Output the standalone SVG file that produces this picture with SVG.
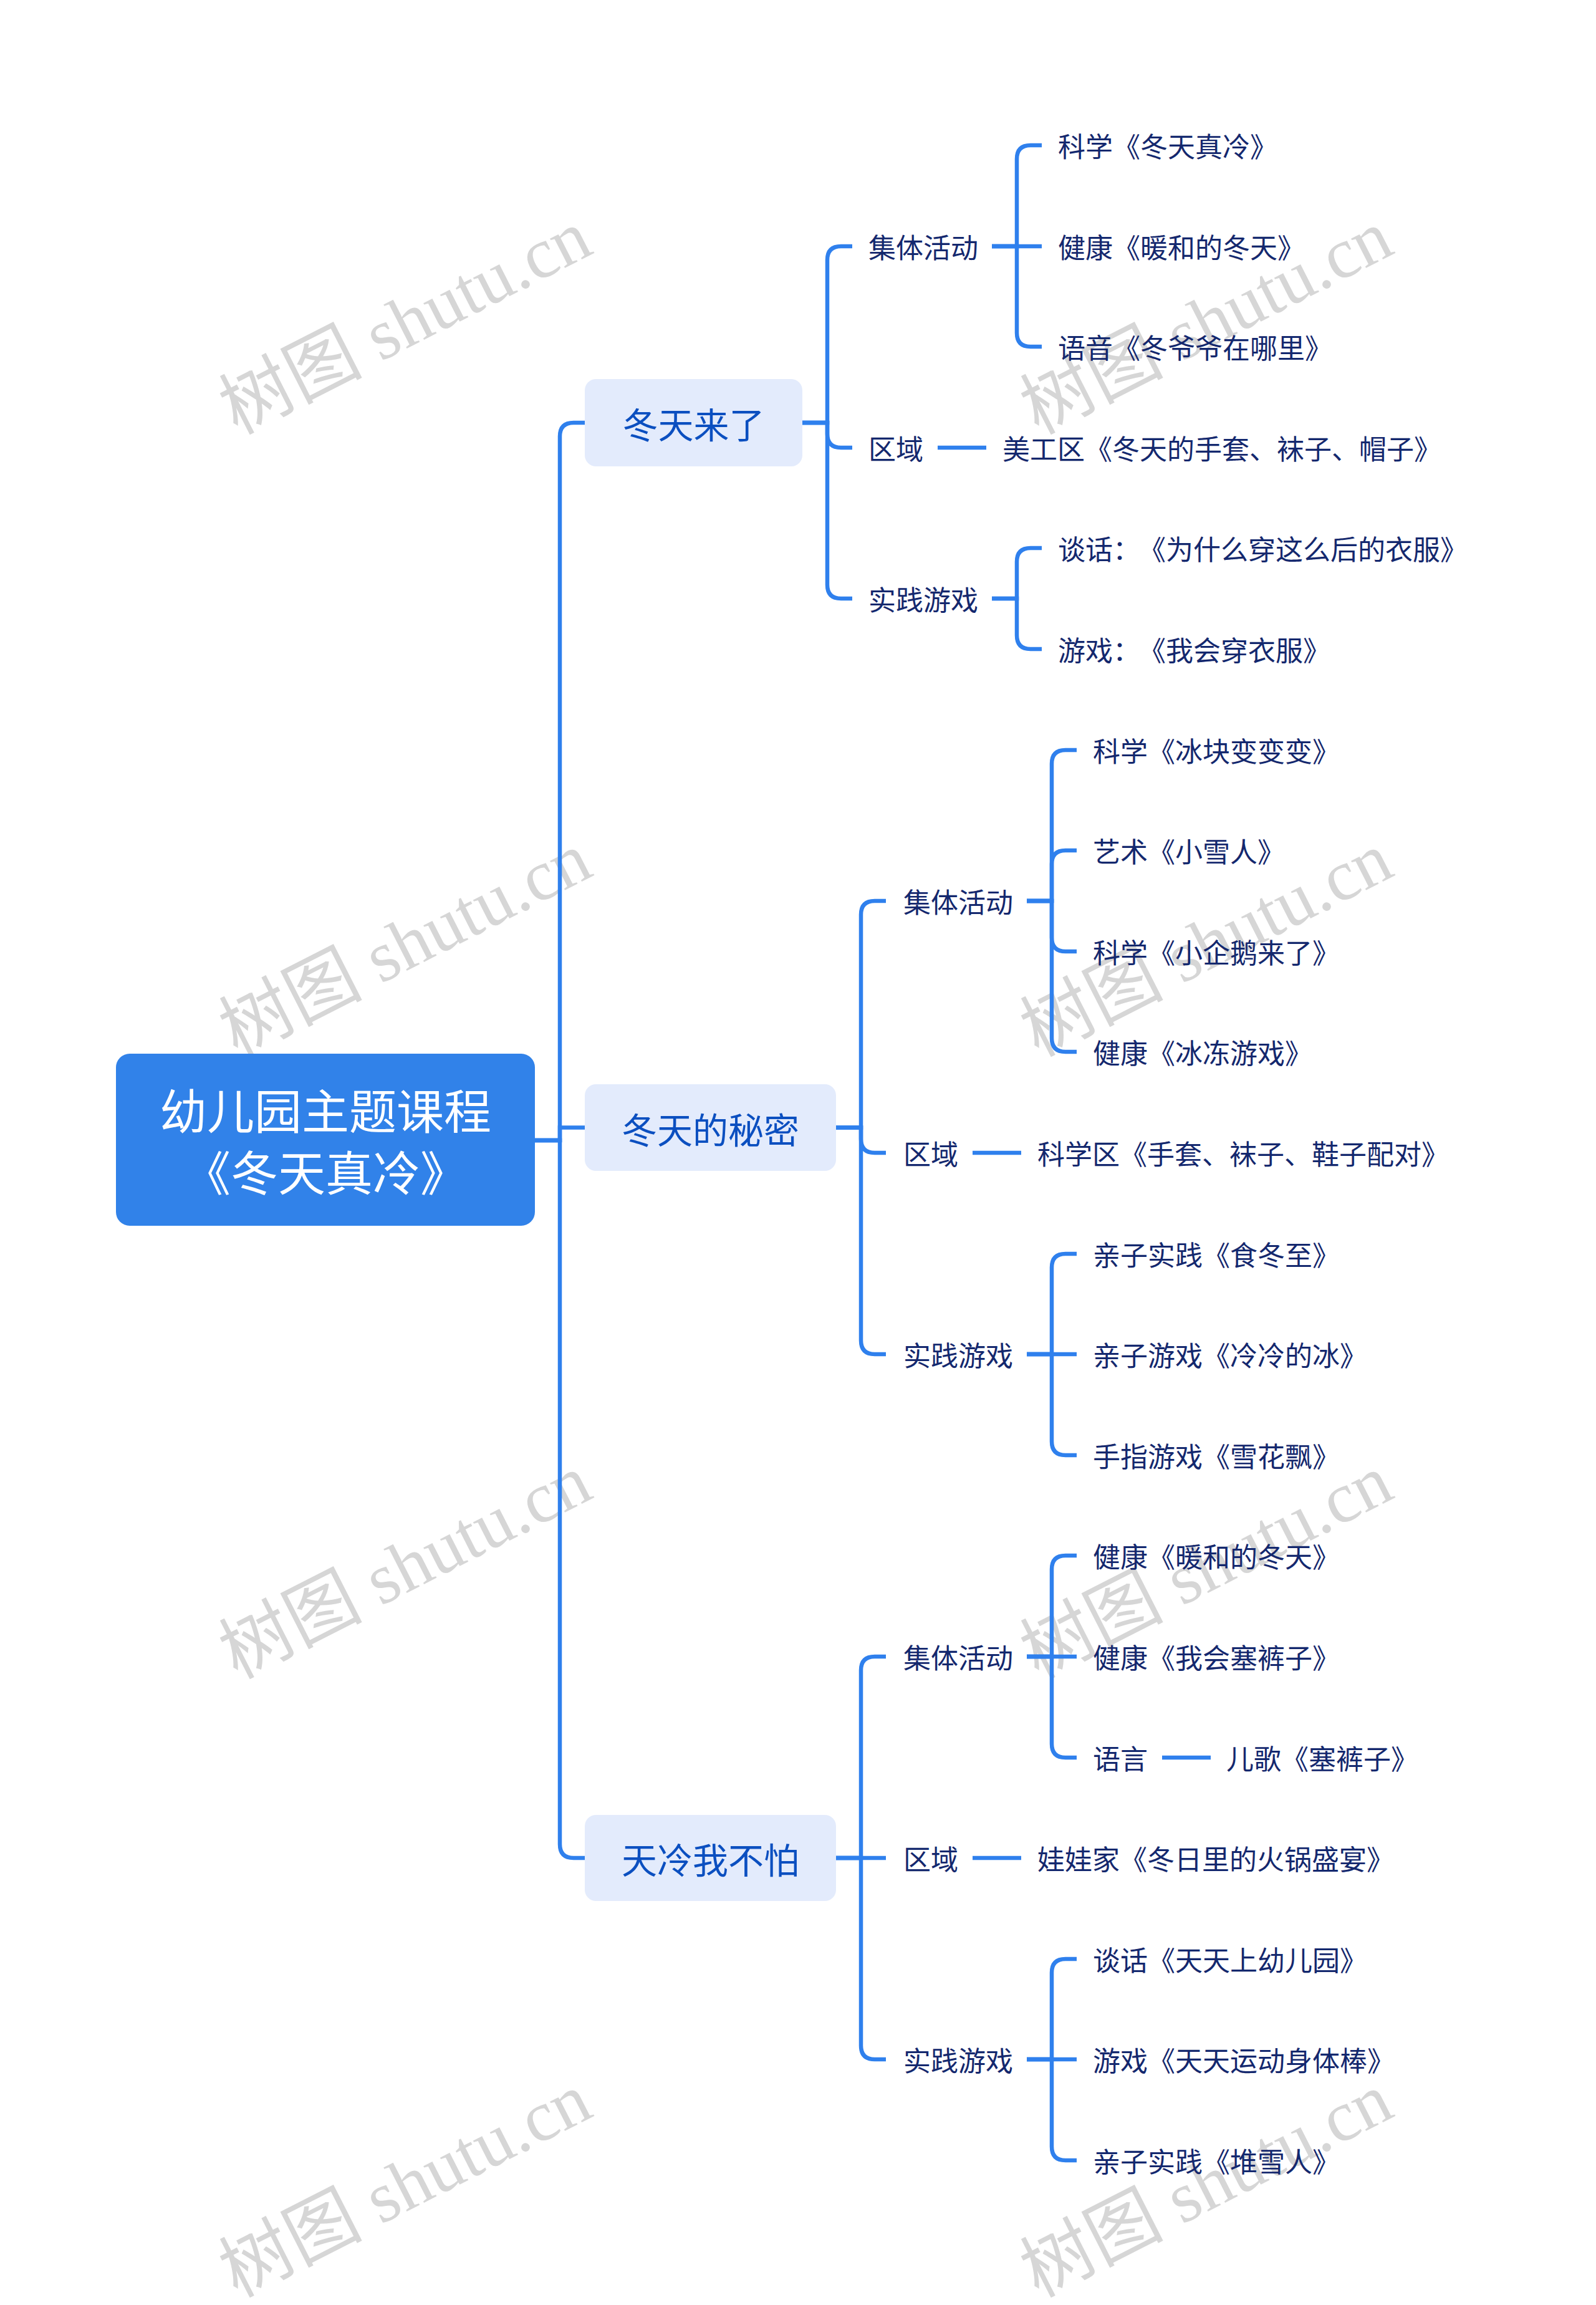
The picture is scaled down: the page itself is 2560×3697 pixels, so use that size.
<svg xmlns="http://www.w3.org/2000/svg" width="2560" height="3697" viewBox="0 0 2560 3697">
<style>
text{font-family:"Noto Sans CJK SC","Noto Sans",sans-serif;dominant-baseline:central}
.wm{font-family:"Liberation Serif","Noto Sans CJK SC",serif;font-size:115px;fill:#d6d6d6;text-anchor:middle}
.root{fill:#3182e9}
.rt{fill:#ffffff;font-size:76px;text-anchor:middle}
.l1{fill:#e3ebfc}
.l1t{fill:#0b4fc0;font-size:57px;text-anchor:middle}
.t{fill:#14286e;font-size:44px}
.c{fill:none;stroke:#2f80ed;stroke-width:6.5;stroke-linecap:butt}
</style>
<rect width="2560" height="3697" fill="#ffffff"/>
<g id="watermarks">
<text class="wm" transform="translate(650,517) rotate(-27)">树图 shutu.cn</text>
<text class="wm" transform="translate(1935,517) rotate(-27)">树图 shutu.cn</text>
<text class="wm" transform="translate(650,1515) rotate(-27)">树图 shutu.cn</text>
<text class="wm" transform="translate(1935,1515) rotate(-27)">树图 shutu.cn</text>
<text class="wm" transform="translate(650,2513) rotate(-27)">树图 shutu.cn</text>
<text class="wm" transform="translate(1935,2513) rotate(-27)">树图 shutu.cn</text>
<text class="wm" transform="translate(650,3505) rotate(-27)">树图 shutu.cn</text>
<text class="wm" transform="translate(1935,3505) rotate(-27)">树图 shutu.cn</text>
</g>
<g id="connectors">
<path class="c" d="M858 1829 H898 V700 Q898 678 920 678 H938"/>
<path class="c" d="M858 1829 H898 V1808.5 H938"/>
<path class="c" d="M858 1829 H898 V2958 Q898 2980 920 2980 H938"/>
<path class="c" d="M1287 678 H1327 V417 Q1327 395 1349 395 H1367"/>
<path class="c" d="M1287 678 H1327 V696 Q1327 718 1349 718 H1367"/>
<path class="c" d="M1287 678 H1327 V938 Q1327 960 1349 960 H1367"/>
<path class="c" d="M1591 395 H1631 V255 Q1631 233 1653 233 H1671"/>
<path class="c" d="M1591 395 H1671"/>
<path class="c" d="M1591 395 H1631 V534 Q1631 556 1653 556 H1671"/>
<path class="c" d="M1504 718 H1582"/>
<path class="c" d="M1591 960 H1631 V901 Q1631 879 1653 879 H1671"/>
<path class="c" d="M1591 960 H1631 V1019 Q1631 1041 1653 1041 H1671"/>
<path class="c" d="M1341 1808.5 H1381 V1467 Q1381 1445 1403 1445 H1421"/>
<path class="c" d="M1341 1808.5 H1381 V1827 Q1381 1849 1403 1849 H1421"/>
<path class="c" d="M1341 1808.5 H1381 V2150 Q1381 2172 1403 2172 H1421"/>
<path class="c" d="M1647 1445 H1687 V1225 Q1687 1203 1709 1203 H1727"/>
<path class="c" d="M1647 1445 H1687 V1386 Q1687 1364 1709 1364 H1727"/>
<path class="c" d="M1647 1445 H1687 V1504 Q1687 1526 1709 1526 H1727"/>
<path class="c" d="M1647 1445 H1687 V1665 Q1687 1687 1709 1687 H1727"/>
<path class="c" d="M1560 1849 H1638"/>
<path class="c" d="M1647 2172 H1687 V2033 Q1687 2011 1709 2011 H1727"/>
<path class="c" d="M1647 2172 H1727"/>
<path class="c" d="M1647 2172 H1687 V2312 Q1687 2334 1709 2334 H1727"/>
<path class="c" d="M1341 2980 H1381 V2679 Q1381 2657 1403 2657 H1421"/>
<path class="c" d="M1341 2980 H1421"/>
<path class="c" d="M1341 2980 H1381 V3281 Q1381 3303 1403 3303 H1421"/>
<path class="c" d="M1647 2657 H1687 V2517 Q1687 2495 1709 2495 H1727"/>
<path class="c" d="M1647 2657 H1727"/>
<path class="c" d="M1647 2657 H1687 V2797 Q1687 2819 1709 2819 H1727"/>
<path class="c" d="M1864 2819 H1942"/>
<path class="c" d="M1560 2980 H1638"/>
<path class="c" d="M1647 3303 H1687 V3164 Q1687 3142 1709 3142 H1727"/>
<path class="c" d="M1647 3303 H1727"/>
<path class="c" d="M1647 3303 H1687 V3443 Q1687 3465 1709 3465 H1727"/>
</g>
<g id="root">
<rect class="root" x="186" y="1690" width="672" height="276" rx="22"/>
<text class="rt" x="522" y="1778">幼儿园主题课程</text>
<text class="rt" x="522" y="1877">《冬天真冷》</text>
</g>
<g id="n1"><rect class="l1" x="938" y="608" width="349" height="140" rx="18"/><text class="l1t" x="1112.5" y="678">冬天来了</text></g>
<g id="n2"><rect class="l1" x="938" y="1739" width="403" height="139" rx="18"/><text class="l1t" x="1139.5" y="1808.5">冬天的秘密</text></g>
<g id="n3"><rect class="l1" x="938" y="2911" width="403" height="138" rx="18"/><text class="l1t" x="1139.5" y="2980">天冷我不怕</text></g>
<g id="n1a"><text class="t" x="1393" y="395">集体活动</text></g>
<g id="n1a1"><text class="t" x="1697" y="233">科学《冬天真冷》</text></g>
<g id="n1a2"><text class="t" x="1697" y="395">健康《暖和的冬天》</text></g>
<g id="n1a3"><text class="t" x="1697" y="556">语音《冬爷爷在哪里》</text></g>
<g id="n1b"><text class="t" x="1393" y="718">区域</text></g>
<g id="n1b1"><text class="t" x="1608" y="718">美工区《冬天的手套、袜子、帽子》</text></g>
<g id="n1c"><text class="t" x="1393" y="960">实践游戏</text></g>
<g id="n1c1"><text class="t" x="1697" y="879">谈话：<tspan dx="19">《为什么穿这么后的衣服》</tspan></text></g>
<g id="n1c2"><text class="t" x="1697" y="1041">游戏：<tspan dx="19">《我会穿衣服》</tspan></text></g>
<g id="n2a"><text class="t" x="1449" y="1445">集体活动</text></g>
<g id="n2a1"><text class="t" x="1753" y="1203">科学《冰块变变变》</text></g>
<g id="n2a2"><text class="t" x="1753" y="1364">艺术《小雪人》</text></g>
<g id="n2a3"><text class="t" x="1753" y="1526">科学《小企鹅来了》</text></g>
<g id="n2a4"><text class="t" x="1753" y="1687">健康《冰冻游戏》</text></g>
<g id="n2b"><text class="t" x="1449" y="1849">区域</text></g>
<g id="n2b1"><text class="t" x="1664" y="1849">科学区《手套、袜子、鞋子配对》</text></g>
<g id="n2c"><text class="t" x="1449" y="2172">实践游戏</text></g>
<g id="n2c1"><text class="t" x="1753" y="2011">亲子实践《食冬至》</text></g>
<g id="n2c2"><text class="t" x="1753" y="2172">亲子游戏《冷冷的冰》</text></g>
<g id="n2c3"><text class="t" x="1753" y="2334">手指游戏《雪花飘》</text></g>
<g id="n3a"><text class="t" x="1449" y="2657">集体活动</text></g>
<g id="n3a1"><text class="t" x="1753" y="2495">健康《暖和的冬天》</text></g>
<g id="n3a2"><text class="t" x="1753" y="2657">健康《我会塞裤子》</text></g>
<g id="n3a3"><text class="t" x="1753" y="2819">语言</text></g>
<g id="n3a3a"><text class="t" x="1967" y="2819">儿歌《塞裤子》</text></g>
<g id="n3b"><text class="t" x="1449" y="2980">区域</text></g>
<g id="n3b1"><text class="t" x="1664" y="2980">娃娃家《冬日里的火锅盛宴》</text></g>
<g id="n3c"><text class="t" x="1449" y="3303">实践游戏</text></g>
<g id="n3c1"><text class="t" x="1753" y="3142">谈话《天天上幼儿园》</text></g>
<g id="n3c2"><text class="t" x="1753" y="3303">游戏《天天运动身体棒》</text></g>
<g id="n3c3"><text class="t" x="1753" y="3465">亲子实践《堆雪人》</text></g>
</svg>
